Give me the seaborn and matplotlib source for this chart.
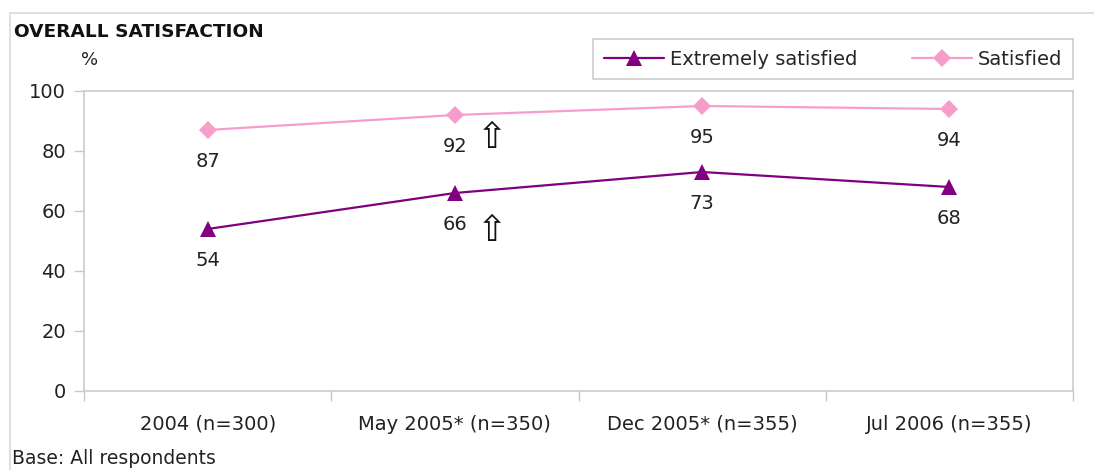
import matplotlib
matplotlib.use("Agg")
import matplotlib.pyplot as plt
from matplotlib.patches import Rectangle
from matplotlib.lines import Line2D
import seaborn as sns
import pandas as pd

# Survey waves and satisfaction levels (%)
waves = ["2004 (n=300)", "May 2005* (n=350)", "Dec 2005* (n=355)", "Jul 2006 (n=355)"]
extremely_satisfied = [54, 66, 73, 68]
satisfied = [87, 92, 95, 94]
# waves showing a significant increase in both measures
increase_waves = ["May 2005* (n=350)"]

series_names = ["Extremely satisfied", "Satisfied"]
colors = {"Extremely satisfied": "#800080", "Satisfied": "#F79DCB"}
markers = {"Extremely satisfied": "^", "Satisfied": "D"}
marker_sizes = {"Extremely satisfied": 12, "Satisfied": 9.5}

df = pd.DataFrame({
    "wave": waves * 2,
    "pos": list(range(len(waves))) * 2,
    "value": extremely_satisfied + satisfied,
    "series": [series_names[0]] * len(waves) + [series_names[1]] * len(waves),
})

sns.set_theme(style="white")
plt.rcParams["font.family"] = ["DejaVu Sans"]

W, H = 1094, 470
fig = plt.figure(figsize=(W / 100, H / 100), dpi=100)
ax = fig.add_axes([84 / W, 1 - 391 / H, (1073 - 84) / W, (391 - 91) / H])

# outer frame of the chart area
fig.patches.append(Rectangle((10 / W, -0.05), 1.2, 1 - 13 / H + 0.05,
                             transform=fig.transFigure, fill=False,
                             edgecolor="#d9d9d9", linewidth=1.2, zorder=0))

sns.lineplot(data=df, x="pos", y="value", hue="series", style="series",
             palette=colors, markers=markers, dashes=False,
             hue_order=series_names, style_order=series_names,
             markersize=11, markeredgewidth=0, linewidth=1.6,
             legend=False, ax=ax)
for line, name in zip(ax.lines, series_names):
    line.set_markersize(marker_sizes[name])

# value labels under each point
for name, vals in zip(series_names, [extremely_satisfied, satisfied]):
    for i, v in enumerate(vals):
        ax.annotate(str(v), (i, v), xytext=(0, -23), textcoords="offset points",
                    ha="center", va="center", fontsize=14, color="#222222")

# significance arrows
for w in increase_waves:
    i = waves.index(w)
    for v, dy in ((satisfied[i], -16.5), (extremely_satisfied[i], -27.5)):
        ax.annotate("\u21e7", (i, v), xytext=(26.5, dy), textcoords="offset points",
                    ha="center", va="center", fontsize=26, color="#111111")

ax.set_xlim(-0.5, len(waves) - 0.5)
ax.set_ylim(0, 100)
ax.set_yticks(range(0, 101, 20))
ax.set_xticks([i - 0.5 for i in range(len(waves) + 1)])
ax.set_xticklabels([])
ax.set_xticks(range(len(waves)), minor=True)
ax.set_xticklabels(waves, minor=True)
ax.tick_params(axis="x", which="major", length=7, width=1, color="#c8c8c8", direction="out", bottom=True)
ax.tick_params(axis="x", which="minor", length=0, pad=17, labelsize=14, labelcolor="#222222")
ax.tick_params(axis="y", length=7, width=1, color="#c8c8c8", direction="out", left=True,
               pad=6, labelsize=14, labelcolor="#222222")
ax.set_xlabel("")
ax.set_ylabel("")
for s in ax.spines.values():
    s.set_color("#cccccc")
    s.set_linewidth(1.2)

fig.text(14 / W, 1 - 32 / H, "OVERALL SATISFACTION", fontsize=13.3, fontweight="bold",
         ha="left", va="center", color="#111111")
fig.text(90 / W, 1 - 60 / H, "%", fontsize=13, ha="center", va="center", color="#222222")
fig.text(12 / W, 1 - 459 / H, "Base: All respondents", fontsize=13.5, ha="left", va="center",
         color="#222222")

handles = [Line2D([], [], color=colors[n], marker=markers[n], markersize=marker_sizes[n],
                  markeredgewidth=0, linewidth=1.6) for n in series_names]
leg = fig.legend(handles, series_names, loc="upper left", bbox_to_anchor=(593 / W, 1 - 39 / H),
                 ncol=2, fontsize=14, frameon=True, fancybox=False, edgecolor="#cccccc",
                 framealpha=1, borderaxespad=0, handlelength=3.1, columnspacing=2.8,
                 handletextpad=0.3, borderpad=0.55)
leg.get_frame().set_linewidth(1.2)

fig.savefig("out.png", dpi=100)
